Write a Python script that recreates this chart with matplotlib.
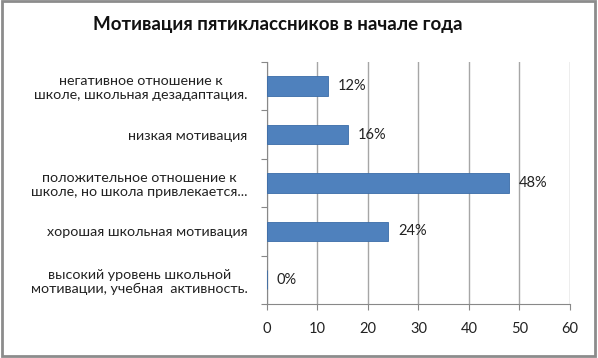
import matplotlib
matplotlib.use("Agg")
import matplotlib.pyplot as plt
from matplotlib.patches import Rectangle

# data (top to bottom as in the picture)
categories = [
    "негативное отношение к\nшколе, школьная дезадаптация.",
    "низкая мотивация",
    "положительное отношение к\nшколе, но школа привлекается...",
    "хорошая школьная мотивация",
    "высокий уровень школьной\nмотивации, учебная  активность.",
]
values = [12, 16, 48, 24, 0]
value_labels = ["12%", "16%", "48%", "24%", "0%"]
x_ticks = [0, 10, 20, 30, 40, 50, 60]

plt.rcParams['font.family'] = ['Lato', 'DejaVu Sans']

fig = plt.figure(figsize=(5.98, 3.58), dpi=100)
ax = fig.add_axes([0.4465, 0.151, 0.5065, 0.676])

n = len(categories)
ypos = list(range(n))
ax.barh(ypos, values, height=0.4, color="#4F81BD", edgecolor="#3A6CA8", linewidth=0.6, zorder=3)
ax.set_ylim(n - 0.5, -0.5)
ax.set_xlim(0, 60)
ax.set_xticks(x_ticks)
ax.set_xticklabels([str(t) for t in x_ticks], fontsize=10.5, color="#222222")

# category labels, ticks at boundaries
ax.set_yticks([i - 0.5 for i in range(n + 1)])
ax.set_yticklabels([])
ax.set_yticks(ypos, minor=True)
ax.set_yticklabels(categories, minor=True, fontsize=10.3, color="#222222",
                   ha="right", multialignment="center")
ax.tick_params(axis="y", which="minor", length=0, pad=14)
ax.tick_params(axis="y", which="major", length=4, color="#888888")
ax.tick_params(axis="x", length=4, color="#888888", pad=9)

ax.grid(axis="x", color="#A6A6A6", linewidth=1, zorder=0)
for s in ["top", "right"]:
    ax.spines[s].set_visible(False)
for s in ["left", "bottom"]:
    ax.spines[s].set_color("#888888")

for y, v, lab in zip(ypos, values, value_labels):
    ax.annotate(lab, (v, y), xytext=(7, 0), textcoords="offset points",
                va="center", ha="left", fontsize=10.5, color="#222222")

fig.text(0.465, 0.932, "Мотивация пятиклассников в начале года", ha="center", va="center",
         fontsize=13.5, fontweight="bold", color="#111111")

# chart border
fig.patches.append(Rectangle((0.003, 0.006), 0.992, 0.99, transform=fig.transFigure,
                             fill=False, edgecolor="#8C8C8C", linewidth=2))

fig.savefig("out.png", dpi=100)
